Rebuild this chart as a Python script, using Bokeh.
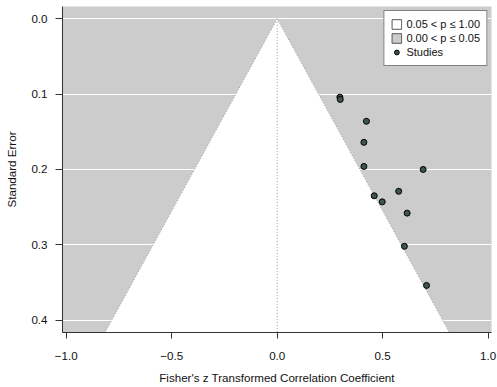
from bokeh.plotting import figure
from bokeh.models import (Range1d, FixedTicker, ColumnDataSource, Legend, LegendItem)
from bokeh.embed import file_html
from bokeh.resources import INLINE

# ---- data ----
z_values = [0.297, 0.299, 0.423, 0.411, 0.411, 0.692, 0.576, 0.460, 0.498, 0.616, 0.603, 0.708]
se_values = [0.104, 0.107, 0.136, 0.164, 0.196, 0.200, 0.229, 0.235, 0.243, 0.258, 0.302, 0.354]

x_ticks = [-1.0, -0.5, 0.0, 0.5, 1.0]
x_tick_labels = ["\u22121.0", "\u22120.5", "0.0", "0.5", "1.0"]
y_ticks = [0.0, 0.1, 0.2, 0.3, 0.4]
y_tick_labels = ["0.0", "0.1", "0.2", "0.3", "0.4"]

legend_labels = ["0.05 < p \u2264 1.00", "0.00 < p \u2264 0.05", "Studies"]
z_crit = 1.959964          # two-sided p = 0.05 contour
refline = 0.0

x_lo, x_hi = -1.018, 1.016
y_top, y_bottom = -0.0164, 0.4165

FONT = "Liberation Sans"
FS = "11.6px"
GRAY = "#cccccc"

p = figure(width=497, height=387, output_backend="svg", toolbar_location=None,
           x_range=Range1d(x_lo, x_hi), y_range=Range1d(y_bottom, y_top),
           min_border_left=62, min_border_right=6, min_border_top=6, min_border_bottom=55)
p.background_fill_color = GRAY
p.border_fill_color = "white"
p.outline_line_color = None

p.xgrid.visible = False
p.ygrid.ticker = FixedTicker(ticks=y_ticks)
p.ygrid.grid_line_color = "white"
p.ygrid.grid_line_width = 1

# white (non-significant) region
ymax = y_bottom
tri_x = [refline - z_crit * ymax, refline, refline + z_crit * ymax]
tri_y = [ymax, 0.0, ymax]
p.patch(tri_x, tri_y, fill_color="white", line_color=None)

# dotted pseudo-CI lines and reference line
p.line(tri_x, tri_y, line_color="#9a9a9a", line_width=1, line_dash="1 2")
p.line([refline, refline], [0.0, ymax], line_color="#9a9a9a", line_width=1, line_dash="1 2")

# studies
src = ColumnDataSource(dict(x=z_values, y=se_values))
r_pts = p.scatter("x", "y", source=src, size=6, fill_color="#3e5353", line_color="black", line_width=1)

# legend-only renderers (hidden in the plot)
leg_src = ColumnDataSource(dict(x=[refline], y=[0.0]))
r_white = p.rect("x", "y", width=0.01, height=0.01, source=leg_src,
                 fill_color="white", line_color="#555555", visible=False)
r_gray = p.rect("x", "y", width=0.01, height=0.01, source=leg_src,
                fill_color=GRAY, line_color="#555555", visible=False)

legend = Legend(items=[LegendItem(label=legend_labels[0], renderers=[r_white]),
                       LegendItem(label=legend_labels[1], renderers=[r_gray]),
                       LegendItem(label=legend_labels[2], renderers=[r_pts])],
                location="top_right", margin=4, padding=6, spacing=0,
                glyph_width=12, glyph_height=12, label_height=14, label_standoff=4,
                border_line_color="black", border_line_width=1,
                background_fill_color="white", background_fill_alpha=1.0,
                inactive_fill_alpha=0.0,
                label_text_font=FONT, label_text_font_size="11px", label_text_color="#111111")
p.add_layout(legend)

# axes
for ax in (p.xaxis[0], p.yaxis[0]):
    ax.axis_line_color = "#333333"
    ax.major_tick_line_color = "#333333"
    ax.major_tick_in = 0
    ax.minor_tick_line_color = None
    ax.major_label_text_font = FONT
    ax.major_label_text_font_size = FS
    ax.major_label_text_color = "#111111"
    ax.axis_label_text_font = FONT
    ax.axis_label_text_font_size = FS
    ax.axis_label_text_font_style = "normal"
    ax.axis_label_text_color = "#111111"

p.xaxis.ticker = FixedTicker(ticks=x_ticks)
p.xaxis.major_label_overrides = dict(zip(x_ticks, x_tick_labels))
p.xaxis.major_tick_out = 6
p.xaxis.major_label_standoff = 13
p.xaxis.axis_label = "Fisher's z Transformed Correlation Coefficient"
p.xaxis.axis_label_standoff = 8

p.yaxis.ticker = FixedTicker(ticks=y_ticks)
p.yaxis.major_label_overrides = dict(zip(y_ticks, y_tick_labels))
p.yaxis.major_tick_out = 7
p.yaxis.major_label_standoff = 8
p.yaxis.axis_label = "Standard Error"
p.yaxis.axis_label_standoff = 10

open("out.html", "w").write(file_html(p, INLINE))
